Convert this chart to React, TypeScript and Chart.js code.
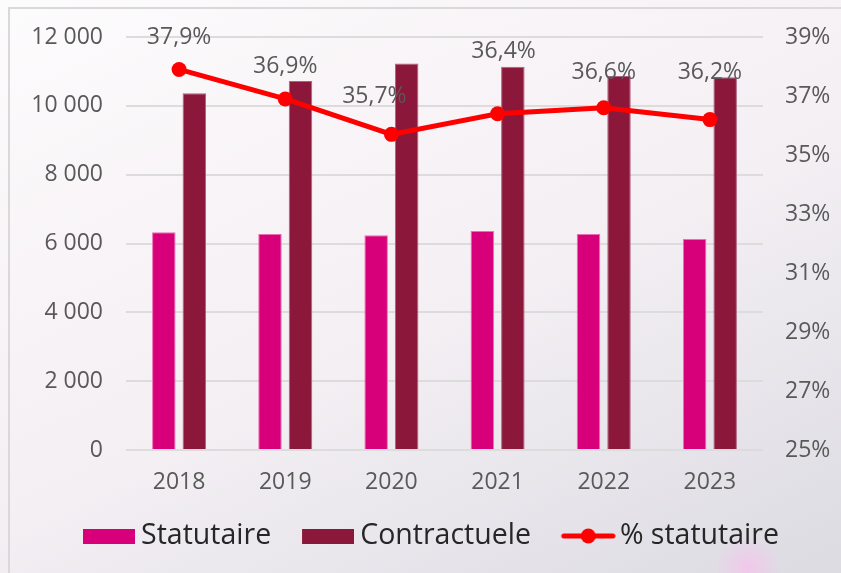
import React, { useEffect, useRef } from "react";
import { Chart, registerables } from "chart.js";

Chart.register(...registerables);

const years = ["2018", "2019", "2020", "2021", "2022", "2023"];
const statutaire = [6330, 6275, 6240, 6360, 6275, 6130];
const contractuele = [10365, 10720, 11230, 11135, 10865, 10830];
const pctStatutaire = [37.9, 36.9, 35.7, 36.4, 36.6, 36.2];
const seriesNames = ["% statutaire", "Statutaire", "Contractuele"];

const FONT = "'Open Sans', 'DejaVu Sans', sans-serif";
const PINK = "#d8007a";
const MAROON = "#8b183a";
const RED = "#ff0000";

// label offsets (pixels) relative to each line point
const labelDx = [0, 0, -17, 6, 0, 0];
const labelDy = [-32, -32, -38, -62, -35, -47];

// legend geometry
const LEG_FONT = 28.5;
const LEG_BOX = 64.75;

const fmtThousands = (v: number) =>
  String(Math.round(v)).replace(/\B(?=(\d{3})+(?!\d))/g, " ");

// swatch image whose visible part sits at its right end, `gap` px before the text
function makeRectImage(color: string, gap: number) {
  const w = LEG_BOX + 2 * (LEG_FONT / 2 - gap);
  const h = 15;
  const c = document.createElement("canvas");
  c.width = Math.round(w);
  c.height = h;
  const ctx = c.getContext("2d")!;
  ctx.fillStyle = color;
  ctx.fillRect(c.width - 52, 0, 52, h);
  return c;
}

function makeLineImage(color: string, gap: number) {
  const w = LEG_BOX + 2 * (LEG_FONT / 2 - gap);
  const h = 18;
  const c = document.createElement("canvas");
  c.width = Math.round(w);
  c.height = h;
  const ctx = c.getContext("2d")!;
  const x0 = c.width - 55;
  ctx.strokeStyle = color;
  ctx.lineWidth = 5;
  ctx.lineCap = "round";
  ctx.beginPath();
  ctx.moveTo(x0 + 3, h / 2);
  ctx.lineTo(c.width - 3, h / 2);
  ctx.stroke();
  ctx.fillStyle = color;
  ctx.beginPath();
  ctx.arc(x0 + 27.5, h / 2, 7.5, 0, Math.PI * 2);
  ctx.fill();
  return c;
}

const labelPlugin = {
  id: "pctLabels",
  afterDatasetsDraw(chart: any) {
    const meta = chart.getDatasetMeta(0);
    const ctx = chart.ctx;
    ctx.save();
    ctx.font = `23px ${FONT}`;
    ctx.fillStyle = "#595959";
    ctx.textAlign = "center";
    ctx.textBaseline = "middle";
    meta.data.forEach((pt: any, i: number) => {
      const txt = pctStatutaire[i].toFixed(1).replace(".", ",") + "%";
      ctx.fillText(txt, pt.x + labelDx[i], pt.y + labelDy[i]);
    });
    ctx.restore();
  },
};

export default function App() {
  const ref = useRef<HTMLCanvasElement>(null);

  useEffect(() => {
    if (!ref.current) return;
    const images: any[] = [
      makeLineImage(RED, 4),
      makeRectImage(PINK, 6),
      makeRectImage(MAROON, 6),
    ];
    const chart = new Chart(ref.current, {
      type: "bar",
      data: {
        labels: years,
        datasets: [
          {
            type: "line",
            label: seriesNames[0],
            data: pctStatutaire,
            yAxisID: "y1",
            borderColor: RED,
            backgroundColor: RED,
            borderWidth: 5,
            pointRadius: 7.5,
            pointBackgroundColor: RED,
            pointBorderColor: RED,
            pointBorderWidth: 0,
            tension: 0,
          } as any,
          {
            type: "bar",
            label: seriesNames[1],
            data: statutaire,
            yAxisID: "y",
            backgroundColor: PINK,
            borderColor: "#ea6fb0",
            borderWidth: 1,
            barPercentage: 0.77,
            categoryPercentage: 0.575,
          },
          {
            type: "bar",
            label: seriesNames[2],
            data: contractuele,
            yAxisID: "y",
            backgroundColor: MAROON,
            borderColor: "#b06080",
            borderWidth: 1,
            barPercentage: 0.77,
            categoryPercentage: 0.575,
          },
        ],
      },
      options: {
        animation: false,
        responsive: false,
        maintainAspectRatio: false,
        layout: { padding: { top: 37, left: 0, right: 0, bottom: 12.75 } },
        scales: {
          x: {
            grid: { display: false, drawTicks: false },
            border: { display: false },
            ticks: {
              color: "#595959",
              font: { family: FONT, size: 23 },
              padding: 19,
            },
            afterFit: (s: any) => {
              s.height = 61.75;
            },
          },
          y: {
            position: "left",
            min: 0,
            max: 12000,
            ticks: {
              stepSize: 2000,
              color: "#595959",
              font: { family: FONT, size: 23 },
              padding: 23,
              callback: (v: any) => fmtThousands(Number(v)),
            },
            grid: { color: "#dcdcdc", lineWidth: 2, drawTicks: false },
            border: { display: false },
            afterFit: (s: any) => {
              s.width = 126;
            },
          },
          y1: {
            position: "right",
            min: 25,
            max: 39,
            ticks: {
              stepSize: 2,
              color: "#595959",
              font: { family: FONT, size: 23 },
              padding: 22,
              callback: (v: any) => `${v}%`,
            },
            grid: { display: false, drawTicks: false },
            border: { display: false },
            afterFit: (s: any) => {
              s.width = 78;
            },
          },
        },
        plugins: {
          tooltip: { enabled: false },
          legend: {
            position: "bottom",
            labels: {
              usePointStyle: true,
              pointStyleWidth: LEG_BOX,
              boxHeight: 15,
              padding: 10,
              color: "#262626",
              font: { family: FONT, size: LEG_FONT },
              generateLabels: (ch: any) =>
                [1, 2, 0].map((i) => ({
                  text: ch.data.datasets[i].label,
                  pointStyle: images[i],
                  fillStyle: "transparent",
                  strokeStyle: "transparent",
                  lineWidth: 0,
                  hidden: false,
                  datasetIndex: i,
                  fontColor: "#262626",
                })),
            },
          },
        },
      },
      plugins: [labelPlugin],
    });
    return () => chart.destroy();
  }, []);

  return (
    <div
      style={{
        position: "absolute",
        left: 0,
        top: 0,
        width: 841,
        height: 573,
        overflow: "hidden",
        background:
          "radial-gradient(circle at 748px 568px, rgba(244,196,236,0.85) 0px, rgba(244,196,236,0) 34px), linear-gradient(155deg, #fdfcfd 0%, #f8f4f7 30%, #f3eff3 55%, #e6e4ea 80%, #dcdbe2 100%)",
      }}
    >
      <div
        style={{
          position: "absolute",
          left: 8,
          top: 7,
          width: 900,
          height: 700,
          border: "2px solid #d9d9d9",
          boxSizing: "border-box",
        }}
      />
      <canvas
        ref={ref}
        width={841}
        height={573}
        style={{ position: "absolute", left: 0, top: 0, width: 841, height: 573 }}
      />
    </div>
  );
}
